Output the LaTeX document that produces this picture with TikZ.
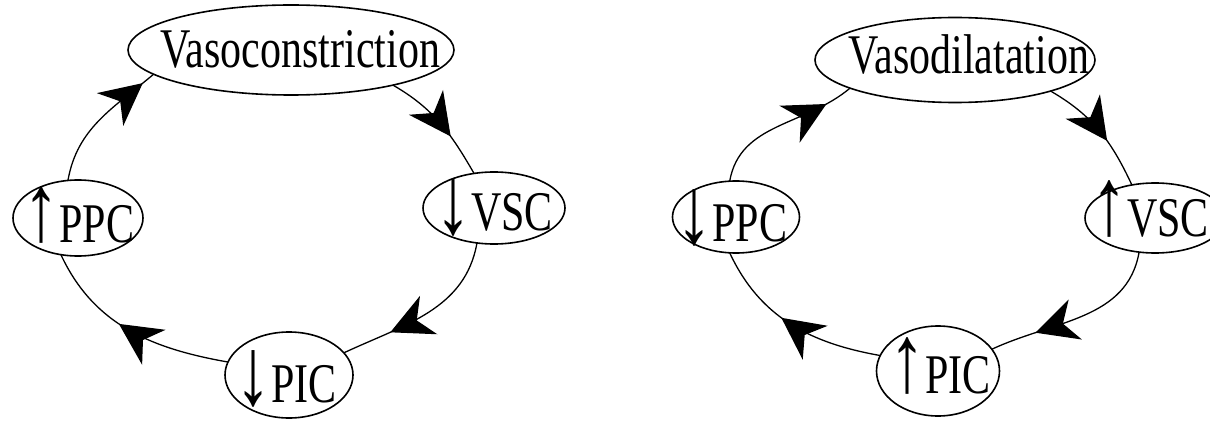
\documentclass[tikz,border=0pt]{standalone}
\usepackage{fontspec}
\setmainfont{Liberation Serif}
\usepackage{graphicx}
\usetikzlibrary{arrows.meta,decorations.markings,shapes.geometric}
\tikzset{
  lbl/.style={draw, ellipse, line width=1.6pt, inner sep=0pt, outer sep=0pt, font=\fontsize{56}{60}\selectfont},
  conn/.style={line width=1.3pt, postaction={decorate},
    decoration={markings, mark=at position #1 with {\arrow{Stealth[length=42pt,width=42pt,inset=13pt]}}}},
}
% #1 horizontal offset of the text centre, #2 depth of the baseline below the centre
\newcommand{\ttxt}[3]{\raisebox{-#2}[0pt][0pt]{\makebox[0pt]{\hspace{#1}\hspace{#1}\scalebox{0.75}[1]{#3}}}}
\newcommand{\upa}{\raisebox{2pt}{\fontsize{96}{96}\selectfont ↑}}
\newcommand{\dna}{\raisebox{-2pt}{\fontsize{96}{96}\selectfont ↓}}
\begin{document}
\begin{tikzpicture}[x=1pt,y=1pt]
\useasboundingbox (0,0) rectangle (1210,421);
\clip (0,0) rectangle (1210,421);
% left cycle
\node[lbl, minimum width=326pt, minimum height=90pt] (vc) at (291,371) {\ttxt{9pt}{18pt}{Vasoconstriction}};
\node[lbl, minimum width=130pt, minimum height=76pt] (ppcL) at (78,203) {\ttxt{1pt}{24pt}{\upa PPC}};
\node[lbl, minimum width=142pt, minimum height=72pt] (vscL) at (494,213) {\ttxt{0pt}{23pt}{\dna VSC}};
\node[lbl, minimum width=128pt, minimum height=86pt] (picL) at (289,46) {\ttxt{-3pt}{27pt}{\dna PIC}};
\draw[conn=0.64] (vc.-19) to[out=-30, in=120] (vscL.120);
\draw[conn=0.72] (vscL.-116) to[out=-100, in=25] (picL.22);
\draw[conn=0.56] (picL.168) to[out=170, in=-65] (ppcL.-115);
\draw[conn=0.9] (ppcL.105) to[out=80, in=-140] (vc.-170);
% right cycle
\node[lbl, minimum width=280pt, minimum height=85pt] (vd) at (955,361) {\ttxt{14pt}{14pt}{Vasodilatation}};
\node[lbl, minimum width=127pt, minimum height=72pt] (ppcR) at (736,204) {\ttxt{-4pt}{24pt}{\dna PPC}};
\node[lbl, minimum width=140pt, minimum height=70pt] (vscR) at (1155,203) {\ttxt{-5pt}{18pt}{\upa VSC}};
\node[lbl, minimum width=123pt, minimum height=90pt] (picR) at (938,50) {\ttxt{2pt}{22pt}{\upa PIC}};
\draw[conn=0.6] (vd.-18) to[out=-30, in=115] (vscR.125);
\draw[conn=0.75] (vscR.-115) to[out=-100, in=25] (picR.22);
\draw[conn=0.56] (picR.165) to[out=170, in=-65] (ppcR.-100);
\draw[conn=0.82] (ppcR.100) to[out=80, in=-140] (vd.-165);
\end{tikzpicture}
\end{document}
